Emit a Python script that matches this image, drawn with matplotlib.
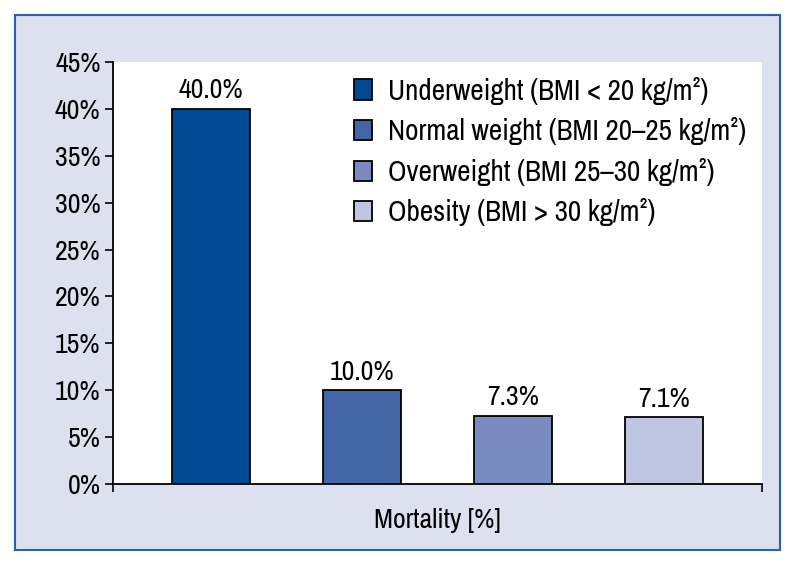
import matplotlib.pyplot as plt
from matplotlib import font_manager
from matplotlib.patches import Rectangle

# data
groups = ["Underweight (BMI < 20 kg/m²)",
          "Normal weight (BMI 20–25 kg/m²)",
          "Overweight (BMI 25–30 kg/m²)",
          "Obesity (BMI > 30 kg/m²)"]
mortality = [40.0, 10.0, 7.3, 7.1]
bar_colors = ["#004a93", "#4466a6", "#7a8bbf", "#bfc6e0"]
yticks = [0, 5, 10, 15, 20, 25, 30, 35, 40, 45]

# look for a narrow sans font, the original uses a condensed face
names = {f.name for f in font_manager.fontManager.ttflist}
narrow = [n for n in names if "Narrow" in n or "Condensed" in n]
if narrow:
    plt.rcParams['font.family'] = [sorted(narrow)[0], 'DejaVu Sans']
else:
    plt.rcParams['font.family'] = ['DejaVu Sans']
    plt.rcParams['font.stretch'] = 'condensed'

W, H = 797, 567
fig = plt.figure(figsize=(W / 100, H / 100), dpi=100, facecolor="white")

# lavender panel with blue border, kept behind the axes
fig.patches.append(Rectangle((15 / W, 1 - 550 / H), 765 / W, 535 / H,
                             transform=fig.transFigure, facecolor="#dde0ee",
                             edgecolor="#2b62a6", linewidth=1.5, zorder=-10))

ax = fig.add_axes([113 / W, 1 - 484 / H, 649 / W, 422 / H])
ax.set_facecolor("white")

xpos = list(range(len(mortality)))
bars = ax.bar(xpos, mortality, width=0.52, color=bar_colors,
              edgecolor="black", linewidth=1.3, label=groups, zorder=3)

fs = 20
for b, v in zip(bars, mortality):
    ax.text(b.get_x() + b.get_width() / 2, v + 0.6, f"{v:.1f}%",
            ha="center", va="bottom", fontsize=fs)

ax.set_ylim(0, 45)
ax.set_xlim(-0.65, 3.65)
ax.set_yticks(yticks)
ax.set_yticklabels([f"{t}%" for t in yticks], fontsize=fs)
ax.set_xticks([-0.65, 3.65])
ax.set_xticklabels(["", ""])
ax.tick_params(axis="both", direction="out", length=6, width=1.2, pad=3)

for side in ["top", "right"]:
    ax.spines[side].set_visible(False)
for side in ["left", "bottom"]:
    ax.spines[side].set_linewidth(1.3)

ax.set_xlabel("Mortality [%]", fontsize=fs, labelpad=8)

leg = ax.legend(handles=bars, labels=groups, loc="upper left",
                bbox_to_anchor=(0.371, 0.965), frameon=False, fontsize=21,
                handlelength=0.62, handleheight=0.69, handletextpad=0.57,
                labelspacing=0.43, borderaxespad=0, borderpad=0)

plt.savefig("out.png", dpi=100, facecolor="white")
